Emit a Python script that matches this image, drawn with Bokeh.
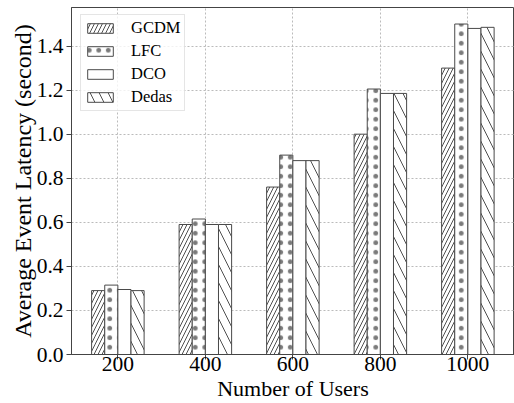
import numpy as np
from bokeh.plotting import figure
from bokeh.models import FixedTicker, Range1d, Legend, LegendItem, NumeralTickFormatter
from bokeh.embed import file_html
from bokeh.resources import INLINE

users = ["200", "400", "600", "800", "1000"]
series = ["GCDM", "LFC", "DCO", "Dedas"]
gcdm = [0.29, 0.59, 0.76, 1.00, 1.30]
lfc = [0.315, 0.615, 0.905, 1.205, 1.50]
dco = [0.295, 0.59, 0.88, 1.185, 1.48]
dedas = [0.29, 0.59, 0.88, 1.185, 1.485]
yticks = [0.0, 0.2, 0.4, 0.6, 0.8, 1.0, 1.2, 1.4]
xlabel = "Number of Users"
ylabel = "Average Event Latency (second)"

values = [gcdm, lfc, dco, dedas]
hatches = [("right_diagonal_line", 8, 0.8, 1.0), ("dot", 9.5, 0.5, 0.6),
           (" ", 12, 1.0, 1.0), ("left_diagonal_line", 18, 0.8, 1.0)]

FONT = "Liberation Serif"
w = 0.15
idx = np.arange(len(users))

p = figure(width=514, height=403, output_backend="svg", toolbar_location=None,
           x_range=Range1d(-0.53, 4.533), y_range=Range1d(0, 1.575),
           min_border_left=71, min_border_right=0, min_border_top=7, min_border_bottom=49)

items = []
for i, (name, vals) in enumerate(zip(series, values)):
    pat, sc, wt, al = hatches[i]
    r = p.vbar(x=idx + (i - 1.5) * w, top=vals, width=w, bottom=0,
               fill_color="white", line_color="#4a4a4a", line_width=1,
               hatch_pattern=pat, hatch_scale=sc, hatch_weight=wt,
               hatch_color="#222222", hatch_alpha=al)
    items.append(LegendItem(label=name, renderers=[r]))

legend = Legend(items=items, location=(9, 243), margin=0, padding=3,
                glyph_width=32, glyph_height=12, label_standoff=15, spacing=3,
                label_height=20, label_text_font=FONT, label_text_font_size="16.5px",
                label_text_color="#000000",
                border_line_color="#cccccc", border_line_width=1,
                background_fill_alpha=0.8)
p.add_layout(legend, "center")

p.xaxis.ticker = FixedTicker(ticks=list(idx))
p.xaxis.major_label_overrides = {int(i): u for i, u in zip(idx, users)}
p.yaxis.ticker = FixedTicker(ticks=yticks)
p.yaxis.formatter = NumeralTickFormatter(format="0.0")

for ax in (p.xaxis[0], p.yaxis[0]):
    ax.major_label_text_font = FONT
    ax.major_label_text_font_size = "21.5px"
    ax.major_label_text_color = "#000000"
    ax.axis_label_text_font = FONT
    ax.axis_label_text_font_style = "normal"
    ax.axis_label_text_color = "#000000"
    ax.minor_tick_line_color = None
    ax.major_tick_out = 5
    ax.major_tick_in = 0
    ax.axis_line_color = "#444444"
    ax.major_tick_line_color = "#444444"

p.yaxis.axis_label = ylabel
p.yaxis.axis_label_text_font_size = "24px"
p.yaxis.axis_label_standoff = -2
p.yaxis.major_label_standoff = 3

p.xaxis.axis_label = xlabel
p.xaxis.axis_label_text_font_size = "22px"
p.xaxis.major_label_standoff = -3
p.xaxis.axis_label_standoff = 2

p.grid.grid_line_color = "#bbbbbb"
p.grid.grid_line_dash = "2 2"
p.grid.grid_line_width = 1
p.outline_line_color = "#444444"
p.outline_line_width = 1

open("out.html", "w").write(file_html(p, INLINE))
